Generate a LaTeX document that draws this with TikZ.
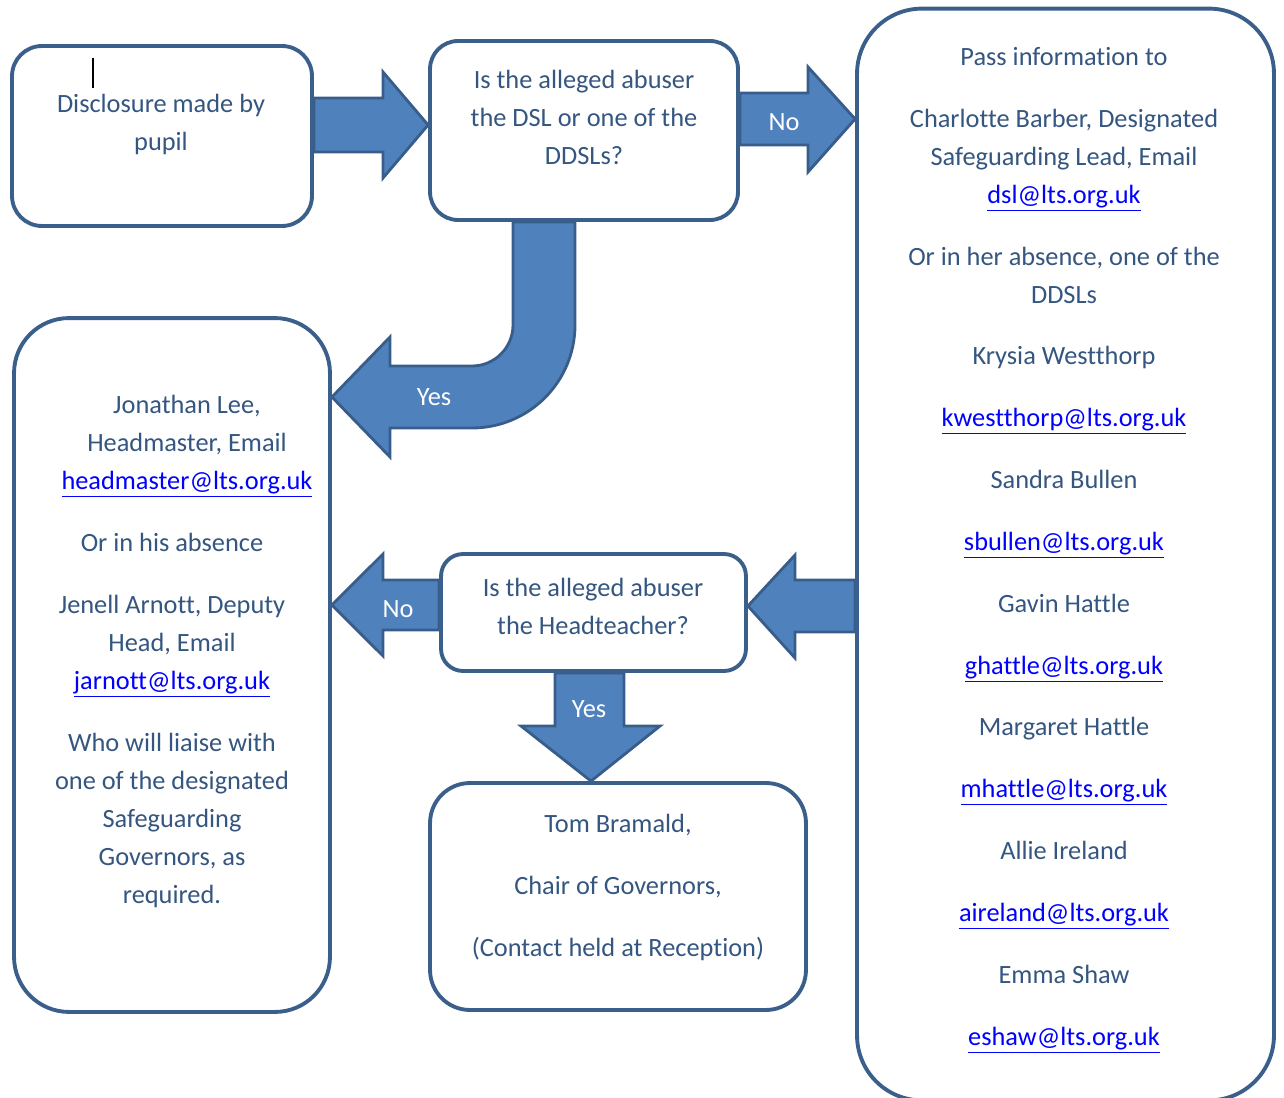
\documentclass[tikz,border=0pt]{standalone}
\usepackage{fontspec}
\setmainfont{Carlito}[Ligatures=NoCommon]
\usetikzlibrary{calc,backgrounds}
\definecolor{boxline}{RGB}{58,95,139}
\definecolor{boxtext}{RGB}{52,86,128}
\definecolor{arrowfill}{RGB}{79,129,189}
\definecolor{arrowline}{RGB}{56,93,138}
\definecolor{linkblue}{RGB}{0,0,255}
\newcommand{\mail}[1]{\textcolor{linkblue}{\underline{#1}}}

\begin{document}
\begin{tikzpicture}[x=0.02cm, y=-0.02cm,
		box/.style={draw=boxline, line width=2.2pt, fill=white},
		txt/.style={text=boxtext, align=center, inner sep=0pt, anchor=north, font=\fontsize{15}{21.6}\selectfont},
		barrow/.style={draw=arrowline, line width=1.6pt, fill=arrowfill, line join=miter},
		blabel/.style={text=white, font=\fontsize{15}{18}\selectfont}]
		\useasboundingbox (0,0) rectangle (1284,1098);

		% boxes
		\node[box, rounded corners=0.6cm, minimum width=6cm, minimum height=3.6cm] (disc) at (162,136) {};
		\node[box, rounded corners=0.56cm, minimum width=6.16cm, minimum height=3.58cm] (q1) at (584,130.5) {};
		\node[box, rounded corners=1.3cm, minimum width=8.34cm, minimum height=21.84cm] (pass) at (1065.5,554.5) {};
		\node[box, rounded corners=1.1cm, minimum width=6.32cm, minimum height=13.88cm] (lead) at (172,665) {};
		\node[box, rounded corners=0.44cm, minimum width=6.1cm, minimum height=2.34cm] (q2) at (593.5,612.5) {};
		\node[box, rounded corners=0.8cm, minimum width=7.52cm, minimum height=4.54cm] (chair) at (618,896.5) {};

		% texts
		\node[txt] (disctext) at (161,94) {Disclosure made by\\pupil};
		\draw[line width=1pt] (93,58) -- (93,88);
		\node[txt] (q1text) at (584,70) {Is the alleged abuser\\the DSL or one of the\\DDSLs?};
		\node[txt] (passtext) at (1064,47) {Pass information to\\[13.6pt]
			Charlotte Barber, Designated\\Safeguarding Lead, Email\\\mail{dsl@lts.org.uk}\\[13.6pt]
			Or in her absence, one of the\\DDSLs\\[13.6pt]
			Krysia Westthorp\\[13.6pt]\mail{kwestthorp@lts.org.uk}\\[13.6pt]
			Sandra Bullen\\[13.6pt]\mail{sbullen@lts.org.uk}\\[13.6pt]
			Gavin Hattle\\[13.6pt]\mail{ghattle@lts.org.uk}\\[13.6pt]
			Margaret Hattle\\[13.6pt]\mail{mhattle@lts.org.uk}\\[13.6pt]
			Allie Ireland\\[13.6pt]\mail{aireland@lts.org.uk}\\[13.6pt]
			Emma Shaw\\[13.6pt]\mail{eshaw@lts.org.uk}};
		\node[txt] (headtext) at (187,395) {Jonathan Lee,\\Headmaster, Email\\\mail{headmaster@lts.org.uk}};
		\node[txt] (deputytext) at (172,533) {Or in his absence\\[13.6pt]
			Jenell Arnott, Deputy\\Head, Email\\\mail{jarnott@lts.org.uk}\\[13.6pt]
			Who will liaise with\\one of the designated\\Safeguarding\\Governors, as\\required.};
		\node[txt] (q2text) at (593,578) {Is the alleged abuser\\the Headteacher?};
		\node[txt] (chairtext) at (618,814) {Tom Bramald,\\[13.6pt]Chair of Governors,\\[13.6pt](Contact held at Reception)};

		% block arrows
		\begin{scope}[on background layer]
			\draw[barrow] (disc.east |- 0,98) -- (383,98) -- (383,72) -- (q1.west |- 0,125) -- (383,178) -- (383,152) -- (disc.east |- 0,152) -- cycle;
			\draw[barrow] (q1.east |- 0,93) -- (808,93) -- (808,67) -- (pass.west |- 0,119) -- (808,172) -- (808,145) -- (q1.east |- 0,145) -- cycle;
			\draw[barrow] (q1.south -| 575,0) -- (575,325) arc[start angle=0, end angle=90, radius=103] -- (390,428) -- (390,457) -- (lead.east |- 0,397) -- (390,337) -- (390,366) -- (472,366) arc[start angle=90, end angle=0, radius=41] -- (q1.south -| 513,0) -- cycle;
			\draw[barrow] (q2.west |- 0,580) -- (383,580) -- (383,554) -- (lead.east |- 0,605) -- (383,656) -- (383,630) -- (q2.west |- 0,630) -- cycle;
			\draw[barrow] (pass.west |- 0,580) -- (795,580) -- (795,555) -- (q2.east |- 0,606) -- (795,658) -- (795,632) -- (pass.west |- 0,632) -- cycle;
			\draw[barrow] (q2.south -| 555,0) -- (555,726) -- (521,726) -- (chair.north -| 591,0) -- (660,726) -- (624,726) -- (q2.south -| 624,0) -- cycle;
		\end{scope}

		\node[blabel] (no1) at (784,122) {No};
		\node[blabel] (yes1) at (434,397) {Yes};
		\node[blabel] (no2) at (398,609) {No};
		\node[blabel] (yes2) at (589,709) {Yes};
	\end{tikzpicture}
\end{document}
